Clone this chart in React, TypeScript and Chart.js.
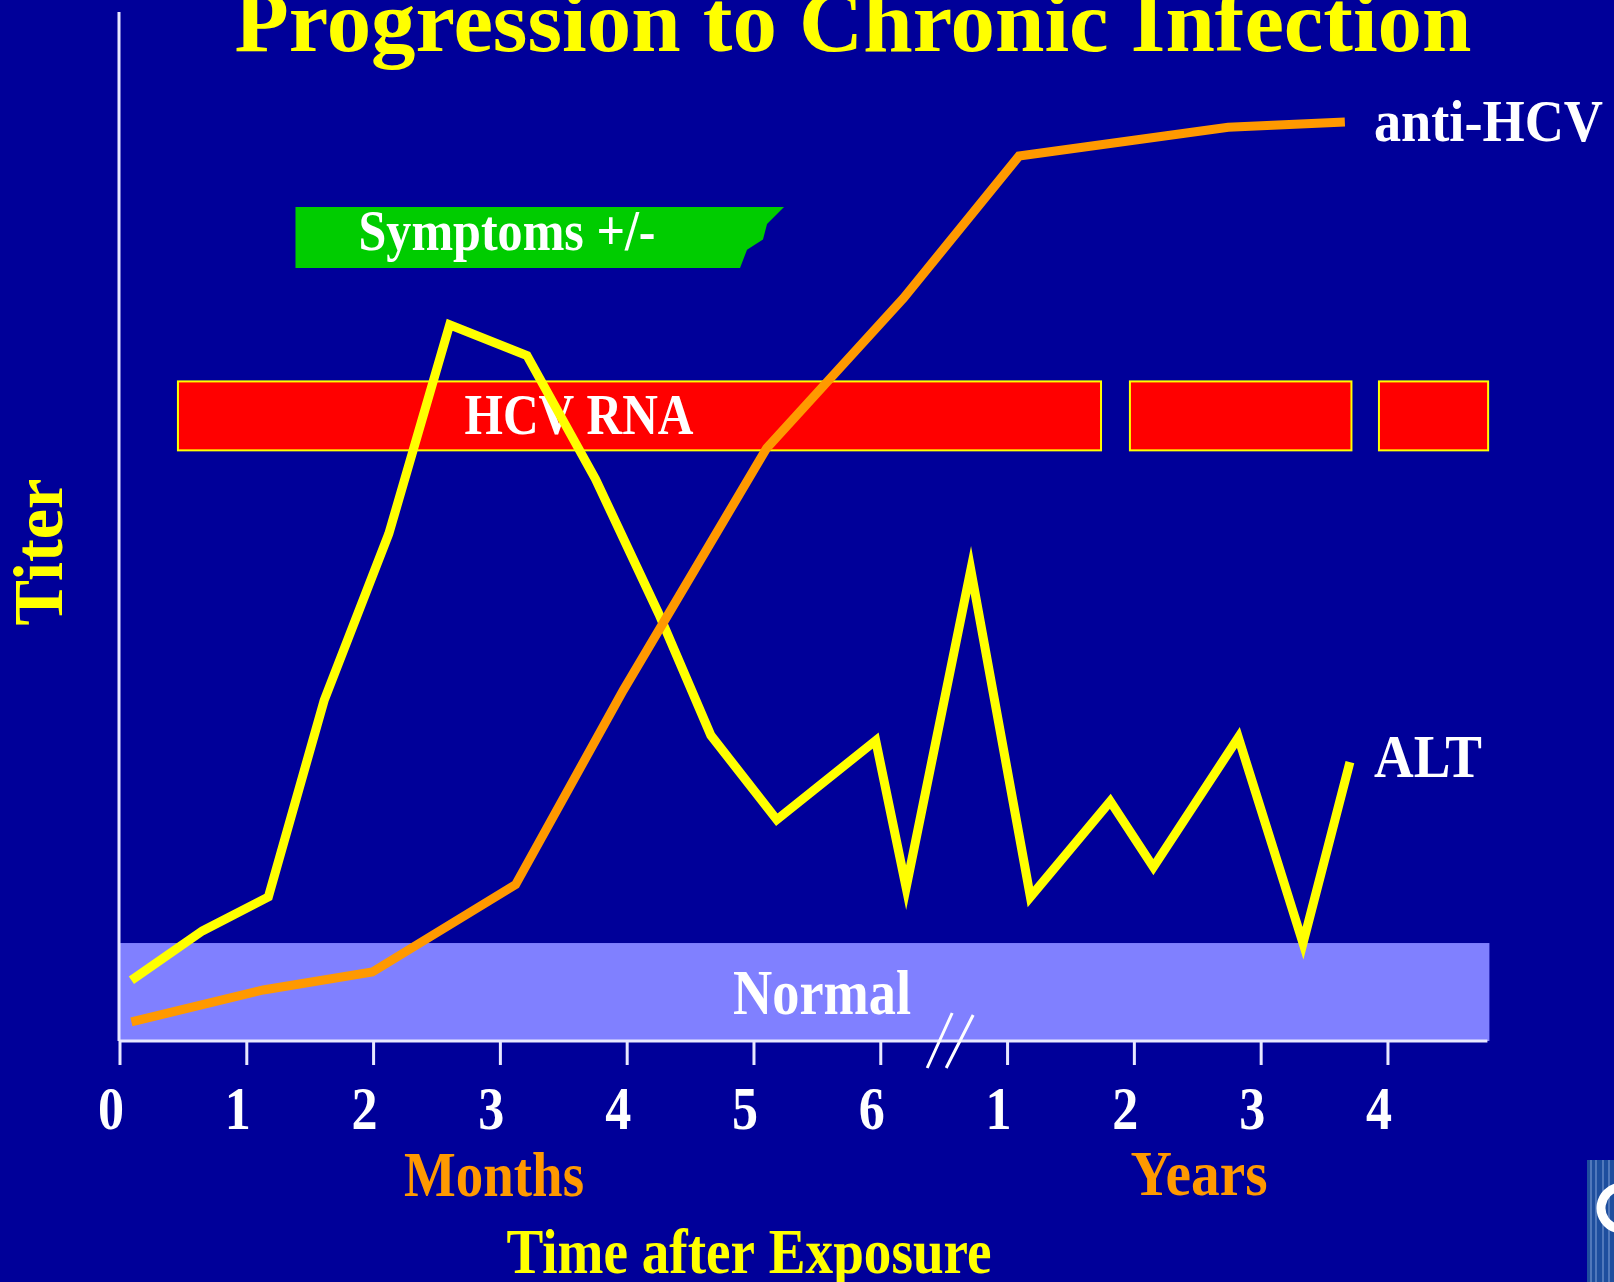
import React, { useEffect, useRef } from "react";
import { Chart, registerables } from "chart.js";

Chart.register(...registerables);

// ---- Data (time axis: 0..6 = months, 7..10 = years 1..4) ----
const monthTickLabels = ["0", "1", "2", "3", "4", "5", "6"];
const yearTickLabels = ["1", "2", "3", "4"];
const axisBreakAt = 6.5;

const altTime = [0.09, 0.65, 1.17, 1.61, 2.12, 2.6, 3.21, 3.75, 4.25, 4.66, 5.18, 5.96, 6.2, 6.71, 7.18, 7.81, 8.15, 8.82, 9.33, 9.7];
const altTiter = [5.9, 10.7, 14.0, 33.1, 49.3, 69.6, 66.6, 54.6, 41.5, 29.7, 21.5, 29.2, 14.9, 45.8, 14.0, 23.3, 16.9, 29.5, 9.5, 27.1];

const antiHcvTime = [0.09, 1.13, 1.99, 3.12, 3.97, 5.1, 6.18, 7.09, 8.74, 9.66];
const antiHcvTiter = [1.85, 4.96, 6.7, 15.2, 34.1, 57.6, 72.2, 86.0, 88.8, 89.3];

const rnaStart = [0.457, 7.965, 9.929];
const rnaEnd = [7.737, 9.712, 10.79];
const rnaLow = 57.4;
const rnaHigh = 64.1;

const normalUpper = 9.52;

const symptomsStart = 1.384;
const symptomsLow = 75.12;
const symptomsHigh = 81.05;
const symptomsEdgeX = [5.237, 5.103, 5.071, 4.945, 4.89];
const symptomsEdgeY = [81.05, 79.4, 77.9, 76.9, 75.12];

const xMin = 0;
const xMax = 10.8;
const yMin = 0;
const yMax = 100;

const BG = "#000099";
const SERIF = '"Liberation Serif", "Times New Roman", serif';

function fitText(
  ctx: CanvasRenderingContext2D,
  text: string,
  x: number,
  baseline: number,
  size: number,
  width: number,
  color: string,
  align: "left" | "center" = "center"
) {
  ctx.save();
  ctx.font = `bold ${size}px ${SERIF}`;
  const w = ctx.measureText(text).width;
  const sx = width / w;
  ctx.translate(x, baseline);
  ctx.scale(sx, 1);
  ctx.textAlign = align;
  ctx.textBaseline = "alphabetic";
  ctx.fillStyle = color;
  ctx.fillText(text, 0, 0);
  ctx.restore();
}

const decorPlugin = {
  id: "decor",
  beforeDraw(chart: any) {
    const { ctx, width, height } = chart;
    ctx.save();
    ctx.fillStyle = BG;
    ctx.fillRect(0, 0, width, height);
    ctx.restore();
  },
  beforeDatasetsDraw(chart: any) {
    const ctx: CanvasRenderingContext2D = chart.ctx;
    const xs = chart.scales.x;
    const ys = chart.scales.y;
    const X = (v: number) => xs.getPixelForValue(v);
    const Y = (v: number) => ys.getPixelForValue(v);
    ctx.save();

    // Normal band
    ctx.fillStyle = "#8080FF";
    ctx.fillRect(X(xMin) - 1, Y(normalUpper), X(xMax) - X(xMin) + 1, Y(0) - Y(normalUpper));

    // HCV RNA bars
    for (let i = 0; i < rnaStart.length; i++) {
      const l = X(rnaStart[i]);
      const r = X(rnaEnd[i]);
      const t = Y(rnaHigh);
      const b = Y(rnaLow);
      ctx.fillStyle = "#FF0000";
      ctx.fillRect(l, t, r - l, b - t);
      ctx.strokeStyle = "#FFFF00";
      ctx.lineWidth = 2;
      ctx.strokeRect(l, t, r - l, b - t);
    }
    fitText(ctx, "HCV RNA", 579, 434, 58, 229, "#FFFFFF");

    // Symptoms bar
    ctx.fillStyle = "#00CC00";
    ctx.beginPath();
    ctx.moveTo(X(symptomsStart), Y(symptomsHigh));
    for (let i = 0; i < symptomsEdgeX.length; i++) {
      ctx.lineTo(X(symptomsEdgeX[i]), Y(symptomsEdgeY[i]));
    }
    ctx.lineTo(X(symptomsStart), Y(symptomsLow));
    ctx.closePath();
    ctx.fill();
    fitText(ctx, "Symptoms +/-", 507, 250, 58, 297, "#FFFFFF");

    // Normal label
    fitText(ctx, "Normal", 822, 1014, 64, 178, "#FFFFFF");

    // Axes
    ctx.strokeStyle = "#E8E8FF";
    ctx.lineWidth = 3;
    ctx.beginPath();
    ctx.moveTo(X(xMin) - 1, Y(yMax));
    ctx.lineTo(X(xMin) - 1, Y(yMin));
    ctx.stroke();
    ctx.beginPath();
    ctx.moveTo(X(xMin) - 1, Y(yMin));
    ctx.lineTo(X(xMax) - 2, Y(yMin));
    ctx.stroke();

    // Ticks + labels
    const ticks: { v: number; label: string }[] = [];
    monthTickLabels.forEach((l, i) => ticks.push({ v: i, label: l }));
    yearTickLabels.forEach((l, i) => ticks.push({ v: monthTickLabels.length + i, label: l }));
    const base = Y(yMin);
    ticks.forEach((t) => {
      const px = X(t.v);
      ctx.strokeStyle = "#E8E8FF";
      ctx.lineWidth = 3;
      ctx.beginPath();
      ctx.moveTo(px, base);
      ctx.lineTo(px, base + 24);
      ctx.stroke();
      ctx.save();
      ctx.font = `bold 62px ${SERIF}`;
      ctx.translate(px - 9, 1129);
      ctx.scale(0.84, 1);
      ctx.textAlign = "center";
      ctx.fillStyle = "#FFFFFF";
      ctx.fillText(t.label, 0, 0);
      ctx.restore();
    });

    // Axis break marks
    const bx = X(axisBreakAt);
    ctx.strokeStyle = "#FFFFFF";
    ctx.lineWidth = 3;
    ctx.beginPath();
    ctx.moveTo(bx - 17, 1068);
    ctx.lineTo(bx + 8, 1013);
    ctx.moveTo(bx + 2, 1068);
    ctx.lineTo(bx + 29, 1015);
    ctx.stroke();

    ctx.restore();
  },
  afterDraw(chart: any) {
    const ctx: CanvasRenderingContext2D = chart.ctx;
    ctx.save();
    // Title
    fitText(ctx, "Progression to Chronic Infection", 853, 51, 86, 1237, "#FFFF00");
    // Series labels
    fitText(ctx, "anti-HCV", 1374, 141, 60, 229, "#FFFFFF", "left");
    fitText(ctx, "ALT", 1374, 777, 62, 108, "#FFFFFF", "left");
    // Axis titles
    fitText(ctx, "Months", 494, 1196, 64, 180, "#FF9900");
    fitText(ctx, "Years", 1199, 1195, 64, 137, "#FF9900");
    fitText(ctx, "Time after Exposure", 749, 1273, 64, 485, "#FFFF00");
    // Titer (rotated)
    ctx.save();
    ctx.translate(62, 552);
    ctx.rotate(-Math.PI / 2);
    ctx.font = `bold 70px ${SERIF}`;
    const tw = ctx.measureText("Titer").width;
    ctx.scale(147 / tw, 1);
    ctx.textAlign = "center";
    ctx.fillStyle = "#FFFF00";
    ctx.fillText("Titer", 0, 0);
    ctx.restore();

    // Logo fragment bottom-right
    ctx.fillStyle = "#1E4E9E";
    ctx.fillRect(1587, 1160, 27, 122);
    ctx.strokeStyle = "rgba(200,220,255,0.6)";
    ctx.lineWidth = 1;
    [1591, 1596, 1603, 1609].forEach((lx) => {
      ctx.beginPath();
      ctx.moveTo(lx, 1160);
      ctx.lineTo(lx, 1282);
      ctx.stroke();
    });
    ctx.strokeStyle = "#FFFFFF";
    ctx.lineWidth = 9;
    ctx.beginPath();
    ctx.arc(1622, 1208, 21, Math.PI * 0.55, Math.PI * 1.45);
    ctx.stroke();
    ctx.restore();
  },
};

export default function App() {
  const canvasRef = useRef<HTMLCanvasElement | null>(null);

  useEffect(() => {
    if (!canvasRef.current) return;
    const altPoints = altTime.map((t, i) => ({ x: t, y: altTiter[i] }));
    const antiPoints = antiHcvTime.map((t, i) => ({ x: t, y: antiHcvTiter[i] }));
    const chart = new Chart(canvasRef.current, {
      type: "line",
      data: {
        datasets: [
          {
            label: "anti-HCV",
            data: antiPoints,
            borderColor: "#FF9900",
            borderWidth: 9,
            pointRadius: 0,
            tension: 0,
            fill: false,
            borderJoinStyle: "miter",
            borderCapStyle: "butt",
            order: 0,
          },
          {
            label: "ALT",
            data: altPoints,
            borderColor: "#FFFF00",
            borderWidth: 9,
            pointRadius: 0,
            tension: 0,
            fill: false,
            borderJoinStyle: "miter",
            borderCapStyle: "butt",
            order: 1,
          },
        ],
      },
      options: {
        animation: false,
        responsive: false,
        devicePixelRatio: 1,
        events: [],
        layout: { padding: { left: 120, right: 124.6, top: 12, bottom: 241 } },
        scales: {
          x: { type: "linear", min: xMin, max: xMax, display: false },
          y: { type: "linear", min: yMin, max: yMax, display: false },
        },
        plugins: {
          legend: { display: false },
          tooltip: { enabled: false },
          title: { display: false },
        },
      } as any,
      plugins: [decorPlugin as any],
    });
    return () => chart.destroy();
  }, []);

  return (
    <div style={{ position: "absolute", left: 0, top: 0, width: 1614, height: 1282, background: BG, overflow: "hidden" }}>
      <canvas ref={canvasRef} width={1614} height={1282} style={{ display: "block", width: 1614, height: 1282 }} />
    </div>
  );
}
